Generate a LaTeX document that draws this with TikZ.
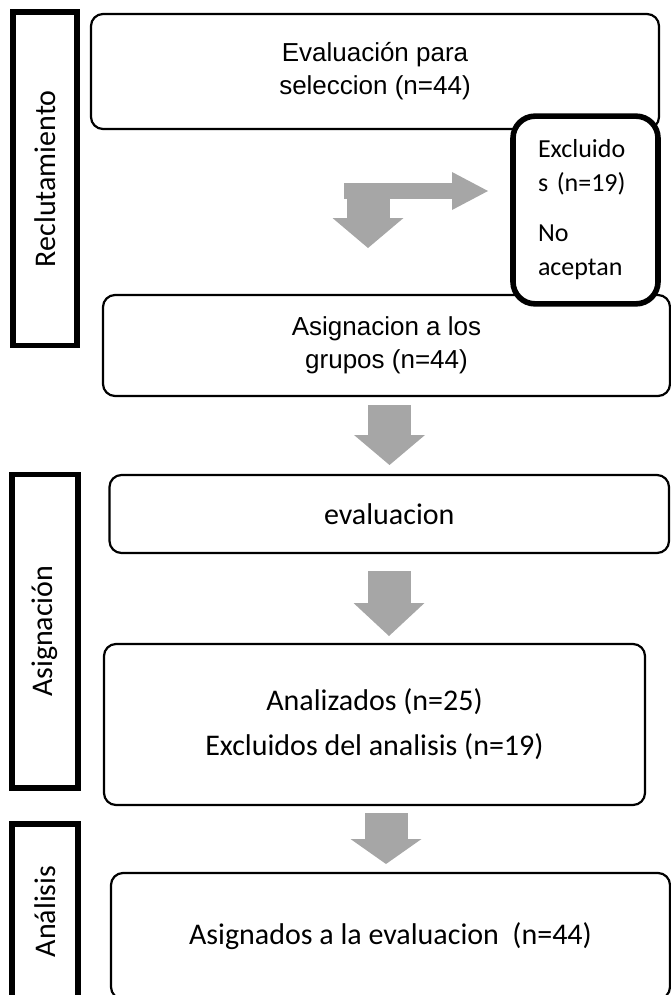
\documentclass[tikz,border=0pt]{standalone}
\usepackage{fontspec}
\usetikzlibrary{arrows.meta}
\newfontfamily\arialfont{Liberation Sans}
\newfontfamily\calibrifont{Carlito}
\definecolor{arrowgray}{RGB}{166,166,166}

\begin{document}
\begin{tikzpicture}[x=1pt,y=-1pt,thick,
    box/.style={draw,line width=2.2pt,rounded corners=12pt,inner sep=0pt,align=center,
                font=\calibrifont\fontsize{30}{36}\selectfont},
    arialbox/.style={box,font=\arialfont\fontsize{26}{33}\selectfont},
    exclbox/.style={draw,fill=white,line width=5.6pt,rounded corners=22pt,inner sep=0pt,
                align=left,text width=95pt,font=\calibrifont\fontsize{26}{34}\selectfont},
    stage/.style={draw,line width=5.5pt,rotate=90,inner sep=0pt,
                font=\calibrifont\fontsize{30}{36}\selectfont},
    blockarrow/.style={draw=arrowgray,line width=43pt,-{Triangle[width=71pt,length=#1,line width=0pt]}},
    blockarrow/.default=30pt]
 % Page frame
 \useasboundingbox (0,0) rectangle (671,995);
 \clip (0,0) rectangle (671,995);

 % Define coordinates.
 \coordinate (sideS) at (344,191);    %bar towards the excluded box.
 \coordinate (sideE) at (488,191);
 \coordinate (downS) at (368,195);    %first arrow down.
 \coordinate (downE) at (368,248);
 \coordinate (gruposS) at (389.5,405);
 \coordinate (gruposE) at (389.5,465);
 \coordinate (evalS) at (389,571);
 \coordinate (evalE) at (389,636);
 \coordinate (analizS) at (386,813);
 \coordinate (analizE) at (386,864);

 % Stage labels on the left
 \node[stage,minimum width=333.5,minimum height=64] (reclut) at (45,178.75) {Reclutamiento};
 \node[stage,minimum width=313.5,minimum height=66] (asigna) at (45,631.25) {Asignación};
 \node[stage,minimum width=175,minimum height=66] (analis) at (45,911.5) {Análisis};

 % Boxes
 \node[arialbox,minimum width=568,minimum height=115] (seleccion) at (375,71.5) {Evaluación para\\seleccion (n=44)};
 \node[arialbox,minimum width=567,minimum height=101] (grupos) at (386.5,345.5) {Asignacion a los\\grupos (n=44)};
 \node[exclbox,minimum width=145,minimum height=187.7] (excluidos) at (585.5,210) {Excluido\\s (n=19)\\[16pt]No\\aceptan};
 \node[box,minimum width=559.5,minimum height=78] (evaluacion) at (389.25,514) {evaluacion};
 \node[box,font=\calibrifont\fontsize{30}{45}\selectfont,minimum width=541,minimum height=161] (analizados) at (374.5,724.5) {Analizados (n=25)\\Excluidos del analisis (n=19)};
 \node[box,minimum width=559,minimum height=126] (asignados) at (390.5,936) {Asignados a la evaluacion~ (n=44)};

 % Grey arrows
 \draw[blockarrow] (downS) -- (downE);
 \draw[blockarrow,line width=16pt,-{Triangle[width=38pt,length=36pt,line width=0pt]}] (sideS) -- (sideE);
 \draw[blockarrow] (gruposS) -- (gruposE);
 \draw[blockarrow=33pt] (evalS) -- (evalE);
 \draw[blockarrow=25pt] (analizS) -- (analizE);
\end{tikzpicture}
\end{document}
